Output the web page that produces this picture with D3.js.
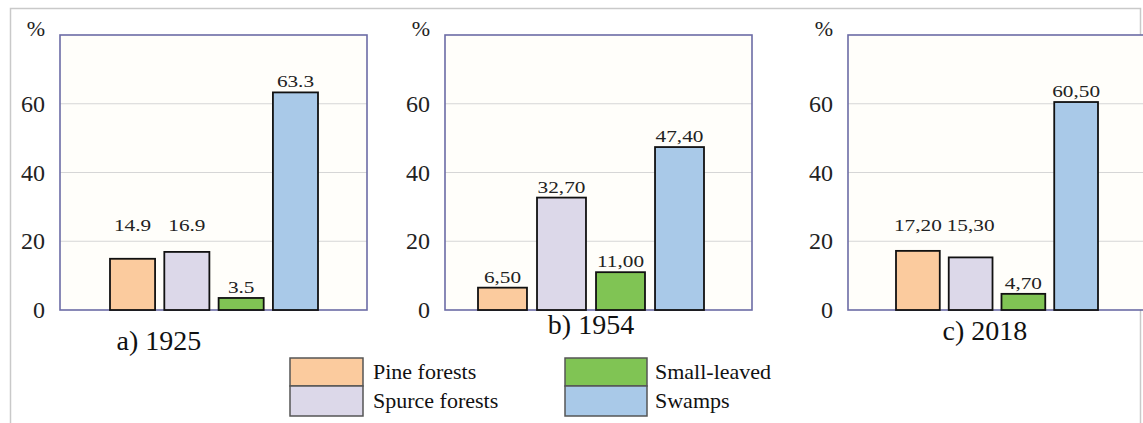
<!DOCTYPE html>
<html lang="en">
<head>
<meta charset="UTF-8">
<title>Forest cover by year</title>
<script src="https://d3js.org/d3.v7.min.js"></script>
<style>
  body { margin: 0; background: #fff; }
</style>
</head>
<body>
<div id="chart"></div>
<script>
// Data
var categories = ["Pine forests", "Spurce forests", "Small-leaved", "Swamps"];
var panelTitles = ["a) 1925", "b) 1954", "c) 2018"];
var pineValues   = [14.9, 6.5, 17.2];
var spruceValues = [16.9, 32.7, 15.3];
var smallValues  = [3.5, 11.0, 4.7];
var swampValues  = [63.3, 47.4, 60.5];
var valueLabels = [
  ["14.9", "16.9", "3.5", "63.3"],
  ["6,50", "32,70", "11,00", "47,40"],
  ["17,20", "15,30", "4,70", "60,50"]
];
var yTicks = [0, 20, 40, 60];
var colors = ["#fbcb9e", "#dcd8e9", "#80c454", "#a9c9e8"];

var width = 1143, height = 423;
var serif = "'Liberation Serif', 'Times New Roman', Times, serif";

// panel layout (pixels)
var panels = [
  { left: 60,  titleX: 99,  titleY: 350, barRange: [50, 258] },
  { left: 445, titleX: 146, titleY: 334, barRange: [33, 259] },
  { left: 848, titleX: 137, titleY: 340, barRange: [48, 250] }
];
var plotW = 307, plotTop = 35, plotBottom = 310;

var svg = d3.select("#chart").append("svg")
  .attr("width", width)
  .attr("height", height)
  .attr("font-family", serif)
  .style("font-family", serif);

svg.append("rect").attr("width", width).attr("height", height).attr("fill", "#fff");

// outer frame
svg.append("rect")
  .attr("x", 10.5).attr("y", 8.5)
  .attr("width", 1130).attr("height", 430)
  .attr("fill", "none").attr("stroke", "#c9c9c9").attr("stroke-width", 1.5);

var y = d3.scaleLinear().domain([0, 80]).range([plotBottom, plotTop]);

panels.forEach(function (p, i) {
  var g = svg.append("g").attr("transform", "translate(" + p.left + ",0)");
  var vals = [pineValues[i], spruceValues[i], smallValues[i], swampValues[i]];

  var x = d3.scaleBand().domain(categories).range(p.barRange).paddingInner(0.17);

  // plot background
  g.append("rect")
    .attr("x", 0).attr("y", plotTop)
    .attr("width", plotW).attr("height", plotBottom - plotTop)
    .attr("fill", "#fffefa");

  // gridlines
  g.selectAll("line.grid")
    .data(yTicks.filter(d => d > 0))
    .enter().append("line")
    .attr("class", "grid")
    .attr("x1", 0).attr("x2", plotW)
    .attr("y1", d => y(d)).attr("y2", d => y(d))
    .attr("stroke", "#d6d6d6").attr("stroke-width", 1.2);

  // plot border
  g.append("rect")
    .attr("x", 0).attr("y", plotTop)
    .attr("width", plotW).attr("height", plotBottom - plotTop)
    .attr("fill", "none").attr("stroke", "#6c6ca6").attr("stroke-width", 1.6);

  // y tick labels
  g.selectAll("text.tick")
    .data(yTicks)
    .enter().append("text")
    .attr("class", "tick")
    .attr("x", -15).attr("y", d => y(d) + 8)
    .attr("text-anchor", "end")
    .attr("fill", "#222")
    .style("font-size", "24px")
    .text(d => d);

  g.append("text")
    .attr("x", -15).attr("y", y(80) + 1)
    .attr("text-anchor", "end")
    .attr("fill", "#222")
    .style("font-size", "22px")
    .text("%");

  // bars
  g.selectAll("rect.bar")
    .data(vals)
    .enter().append("rect")
    .attr("class", "bar")
    .attr("x", (d, j) => x(categories[j]))
    .attr("y", d => y(d))
    .attr("width", x.bandwidth())
    .attr("height", d => y(0) - y(d))
    .attr("fill", (d, j) => colors[j])
    .attr("stroke", "#111").attr("stroke-width", 1.8);

  // value labels, lifted above a gridline they would touch
  g.selectAll("text.val")
    .data(vals)
    .enter().append("text")
    .attr("class", "val")
    .attr("transform", function (d, j) {
      var base = y(d) - 5;
      yTicks.forEach(function (t) {
        var gy = y(t);
        if (t > 0 && gy > base - 15 && gy < base + 3) base = gy - 10;
      });
      return "translate(" + (x(categories[j]) + x.bandwidth() / 2) + "," + base + ") scale(1.25,1)";
    })
    .attr("text-anchor", "middle")
    .attr("fill", "#222")
    .style("font-size", "17px")
    .text((d, j) => valueLabels[i][j]);

  // panel title
  g.append("text")
    .attr("x", p.titleX).attr("y", p.titleY)
    .attr("text-anchor", "middle")
    .attr("fill", "#111")
    .style("font-size", "28px")
    .text(panelTitles[i]);
});

// legend: two columns, two rows
var legendCols = [{ x: 290, w: 73, tx: 373 }, { x: 565, w: 82, tx: 655 }];
var legendRows = [{ y: 358, h: 28 }, { y: 386, h: 30 }];

var legend = svg.append("g");
categories.forEach(function (name, k) {
  var col = legendCols[Math.floor(k / 2)], row = legendRows[k % 2];
  legend.append("rect")
    .attr("x", col.x).attr("y", row.y)
    .attr("width", col.w).attr("height", row.h)
    .attr("fill", colors[k])
    .attr("stroke", "#555").attr("stroke-width", 1.5);
  legend.append("text")
    .attr("x", col.tx).attr("y", row.y + row.h / 2 + 7)
    .attr("fill", "#111")
    .style("font-size", "22px")
    .text(name);
});
</script>
</body>
</html>
